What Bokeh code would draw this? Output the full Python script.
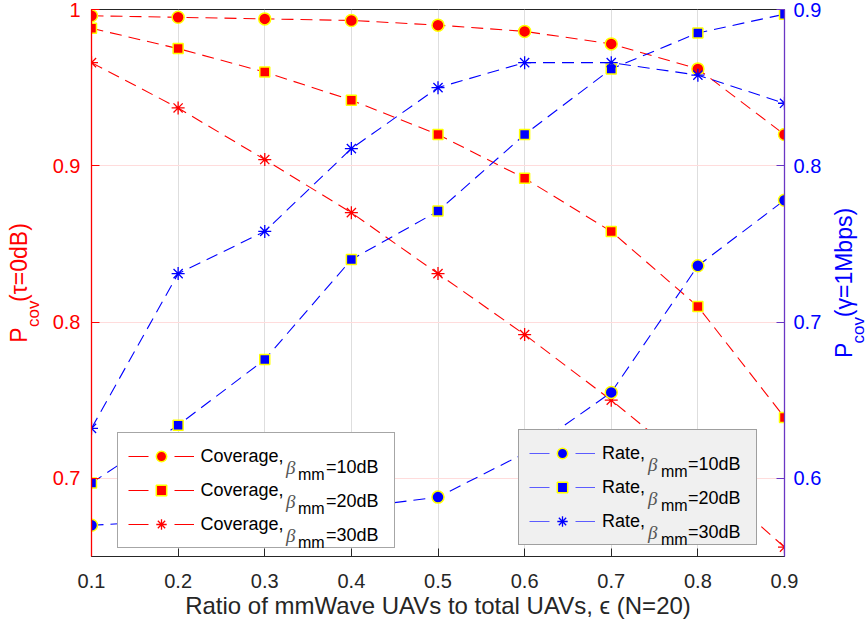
import math
from bokeh.plotting import figure
from bokeh.layouts import row
from bokeh.models import (Range1d, LinearAxis, FixedTicker, Legend, LegendItem,
                          ColumnDataSource)
from bokeh.embed import file_html
from bokeh.resources import INLINE

# ---------------- data ----------------
eps = [0.1, 0.2, 0.3, 0.4, 0.5, 0.6, 0.7, 0.8, 0.9]
cov_10 = [0.996, 0.995, 0.994, 0.993, 0.990, 0.986, 0.978, 0.962, 0.920]
cov_20 = [0.988, 0.975, 0.960, 0.942, 0.920, 0.892, 0.858, 0.810, 0.739]
cov_30 = [0.966, 0.937, 0.904, 0.870, 0.831, 0.792, 0.750, 0.705, 0.656]
rate_10 = [0.570, 0.573, 0.576, 0.581, 0.588, 0.616, 0.655, 0.736, 0.778]
rate_20 = [0.597, 0.634, 0.676, 0.740, 0.771, 0.820, 0.862, 0.885, 0.897]
rate_30 = [0.632, 0.731, 0.758, 0.811, 0.850, 0.866, 0.866, 0.858, 0.840]

x_ticks = [0.1, 0.2, 0.3, 0.4, 0.5, 0.6, 0.7, 0.8, 0.9]
left_ticks = [0.7, 0.8, 0.9, 1.0]
right_ticks = [0.6, 0.7, 0.8, 0.9]
cov_labels = ["Coverage,", "Coverage,", "Coverage,"]
rate_labels = ["Rate,", "Rate,", "Rate,"]
beta_vals = ["=10dB", "=20dB", "=30dB"]
x_label = "Ratio of mmWave UAVs to total UAVs, \u03f5 (N=20)"
NB = "\u00a0"
left_main = "P" + NB * 4 + "(\u03c4=0dB)"
right_main = "P" + NB * 4 + "(\u03b3=1Mbps)"
sub_text = "cov"

FONT = "Liberation Sans"
GREEK = "Liberation Serif"
DARK = "#262626"
RED = "#ff0000"
BLUE = "#0000ff"
LEG_BLUE = "#5c5cff"
PURPLE = "#6a36c4"

X0, X1 = 0.1, 0.9
YL0, YL1 = 0.65, 1.0
YR0, YR1 = 0.55, 0.9

# ---------------- main figure ----------------
W, H = 824, 630
FL, FR, FT, FB = 91, 784, 9, 556     # frame edges (canvas px)
p = figure(width=W, height=H, output_backend="svg", toolbar_location=None,
           x_range=Range1d(X0, X1), y_range=Range1d(YL0, YL1),
           min_border_left=FL, min_border_right=W - FR, min_border_top=FT,
           min_border_bottom=H - FB, background_fill_color="white",
           border_fill_color="white")
p.extra_y_ranges = {"right": Range1d(YR0, YR1)}
p.outline_line_color = DARK
p.outline_line_width = 1

fx = lambda px: px - FL
fy = lambda py: FB - py

def style_ticks(ax, color):
    ax.axis_line_color = color
    ax.major_tick_line_color = color
    ax.major_tick_in = 8
    ax.major_tick_out = 0
    ax.minor_tick_line_color = None

def title_axis(ax, text, size, color, standoff):
    ax.axis_label = text
    ax.axis_label_text_font = FONT
    ax.axis_label_text_font_size = size
    ax.axis_label_text_font_style = "normal"
    ax.axis_label_text_color = color
    ax.axis_label_standoff = standoff

def bare_axis(**kw):
    return LinearAxis(ticker=FixedTicker(ticks=[]), axis_line_color=None,
                      major_tick_line_color=None, minor_tick_line_color=None,
                      major_label_standoff=0, **kw)

# bottom axis
xa = p.xaxis[0]
xa.ticker = FixedTicker(ticks=x_ticks)
style_ticks(xa, DARK)
xa.major_label_text_font = FONT
xa.major_label_text_font_size = "20px"
xa.major_label_text_color = DARK
xa.major_label_standoff = 17
title_axis(xa, x_label, "24px", DARK, 1)

# left axis: ticks + labels, its title holds the subscript
ya = p.yaxis[0]
ya.ticker = FixedTicker(ticks=left_ticks)
ya.major_label_overrides = {1.0: "1"}
style_ticks(ya, RED)
ya.axis_line_width = 1.3
ya.major_label_text_font = FONT
ya.major_label_text_font_size = "20px"
ya.major_label_text_color = RED
ya.major_label_standoff = 11
title_axis(ya, sub_text + NB * 13, "17px", RED, 7)

# outer left axis: only the main part of the title
yb = bare_axis()
title_axis(yb, left_main, "23px", RED, -11)
p.add_layout(yb, "left")

# right axis: ticks + labels
ra = LinearAxis(y_range_name="right", ticker=FixedTicker(ticks=right_ticks))
style_ticks(ra, PURPLE)
ra.axis_line_width = 1.3
ra.major_label_text_font = FONT
ra.major_label_text_font_size = "20px"
ra.major_label_text_color = BLUE
ra.major_label_standoff = 9
p.add_layout(ra, "right")

# grids
p.xgrid.grid_line_color = "#dedede"
p.xgrid.ticker = FixedTicker(ticks=x_ticks)
p.ygrid.grid_line_color = "#ffdcdc"
p.ygrid.ticker = FixedTicker(ticks=left_ticks)

# ---------------- series ----------------
src = ColumnDataSource(dict(x=eps, c10=cov_10, c20=cov_20, c30=cov_30,
                            r10=rate_10, r20=rate_20, r30=rate_30))
DASH = "12 7"
LW = 1.1

def series(col, color, marker, rng=None):
    kw = {} if rng is None else {"y_range_name": rng}
    p.line("x", col, source=src, line_color=color, line_dash=DASH,
           line_width=LW, **kw)
    if marker == "asterisk":
        p.scatter("x", col, source=src, marker="asterisk", size=13,
                  line_color=color, line_width=1.3, **kw)
    else:
        size = 12 if marker == "circle" else 10
        p.scatter("x", col, source=src, marker=marker, size=size,
                  fill_color=color, line_color="yellow", line_width=1.5, **kw)

series("c10", RED, "circle")
series("c20", RED, "square")
series("c30", RED, "asterisk")
series("r10", BLUE, "circle", "right")
series("r20", BLUE, "square", "right")
series("r30", BLUE, "asterisk", "right")

# ---------------- legends ----------------
NAN = float("nan")
markers = ["circle", "square", "asterisk"]
LEG_H = 10 + 3 * 26 + 2 * 8 + 10

def legend_renderers(line_color, color, marker):
    ln = p.segment(x0=[NAN], y0=[NAN], x1=[NAN], y1=[NAN],
                   line_color=line_color, line_alpha=1.0,
                   line_dash="20 26", line_width=1.2)
    if marker == "asterisk":
        sc = p.scatter(x=[NAN], y=[NAN], marker="asterisk", size=12,
                       line_color=color, line_width=1.3)
    else:
        sc = p.scatter(x=[NAN], y=[NAN], marker=marker, size=12,
                       fill_color=color, line_color="yellow", line_width=1.5)
    return [ln, sc]

def common(**kw):
    d = dict(orientation="vertical", padding=10, spacing=8, glyph_height=26,
             label_height=26, margin=0, label_text_color="black")
    d.update(kw)
    return d

def make_legend(labels, line_color, color, left, top, label_w, bg):
    items = [LegendItem(label=lab,
                        renderers=legend_renderers(line_color, color, m))
             for lab, m in zip(labels, markers)]
    p.add_layout(Legend(items=items, location=(fx(left), fy(top + LEG_H)),
                        **common(glyph_width=66, label_width=label_w,
                                 label_standoff=7, label_text_font=FONT,
                                 label_text_font_size="18px",
                                 background_fill_color=bg,
                                 background_fill_alpha=1.0,
                                 border_line_color="#4d4d4d",
                                 border_line_width=1)))

inv = p.line(x=[NAN], y=[NAN], line_alpha=0)

def text_legend(texts, text_x, top, dy, font, size, style, color):
    items = [LegendItem(label=t, renderers=[inv]) for t in texts]
    p.add_layout(Legend(items=items,
                        location=(fx(text_x - 5), fy(top + LEG_H + dy)),
                        **common(glyph_width=1, label_standoff=0,
                                 label_width=10, label_text_font=font,
                                 label_text_font_size=size,
                                 label_text_font_style=style,
                                 label_text_color=color,
                                 background_fill_alpha=0.0,
                                 border_line_color=None)))

def tex_parts(top, bx, mx, ex):
    text_legend(["\u03b2"] * 3, bx, top, 1, GREEK, "19px", "italic",
                "#555555")
    text_legend(["mm"] * 3, mx, top, 8, FONT, "16px", "normal", "black")
    text_legend(beta_vals, ex, top, 0, FONT, "18px", "normal", "black")

make_legend(cov_labels, RED, RED, 116.5, 434, 183, "white")
tex_parts(434, 290, 302, 330)
make_legend(rate_labels, LEG_BLUE, BLUE, 518, 431, 144, "#f0f0f0")
tex_parts(431, 652, 665, 692)

# ---------------- right-hand title strip ----------------
W2 = 866 - W
p2 = figure(width=W2, height=H, output_backend="svg", toolbar_location=None,
            x_range=Range1d(0, 1), y_range=Range1d(0, 1),
            x_axis_location=None, min_border_left=W2 - 6, min_border_right=0,
            min_border_top=FT, min_border_bottom=H - FB,
            background_fill_color="white", border_fill_color="white")
p2.outline_line_color = None
p2.grid.visible = False
ya2 = p2.yaxis[0]
ya2.ticker = FixedTicker(ticks=[])
ya2.axis_line_color = None
ya2.major_tick_line_color = None
ya2.minor_tick_line_color = None
ya2.major_label_standoff = 0
title_axis(ya2, sub_text + NB * 20, "17px", BLUE, -7)
yb2 = bare_axis()
title_axis(yb2, right_main, "23px", BLUE, -11)
p2.add_layout(yb2, "left")

layout = row(p, p2)
open("out.html", "w").write(file_html(layout, INLINE))
